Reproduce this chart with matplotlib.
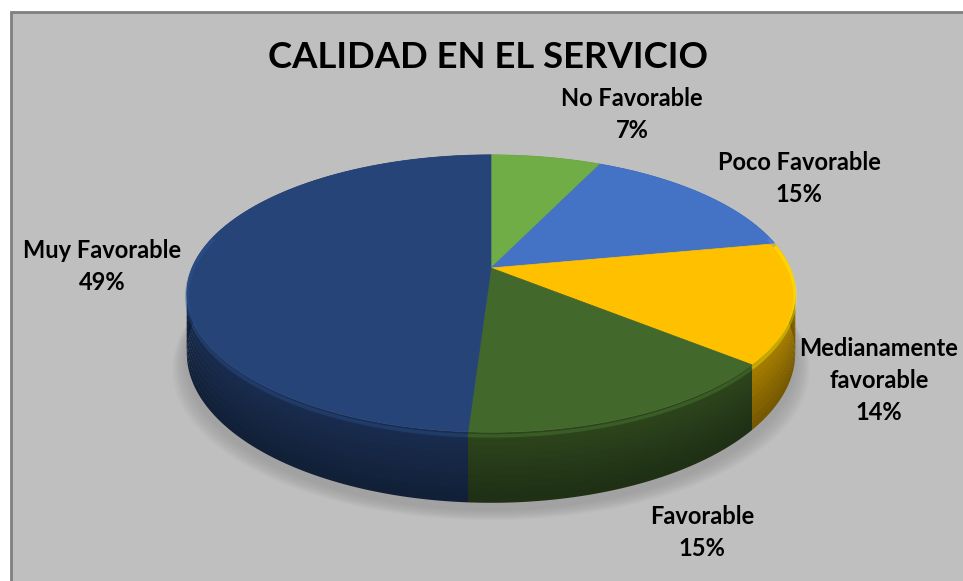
import numpy as np
import matplotlib.pyplot as plt
from matplotlib.patches import Polygon, Rectangle
from matplotlib.colors import to_rgb

# Calidad en el servicio - 3D pie
labels = ['No Favorable', 'Poco Favorable', 'Medianamente\nfavorable', 'Favorable', 'Muy Favorable']
values = [7, 15, 14, 15, 49]
colors = ['#70ad47', '#4472c4', '#ffc000', '#43682b', '#264478']
title = 'CALIDAD EN EL SERVICIO'

# centre of the first text line of each label (pixels)
label_pos = [(632, 99), (799, 163), (879, 348), (702, 517), (102, 251)]
line_step = 32

W, H = 963, 581
plt.rcParams['font.family'] = ['Lato', 'DejaVu Sans']

fig = plt.figure(figsize=(W / 100, H / 100), dpi=100)
ax = fig.add_axes([0, 0, 1, 1])
ax.set_xlim(0, W)
ax.set_ylim(H, 0)
ax.axis('off')

ax.add_patch(Rectangle((11, 12), W, H, facecolor='#bfbfbf', edgecolor='#7f7f7f', lw=2))

# pie geometry (perspective projection of a tilted disc)
cx, cy = 491, 268
rx, ry = 299, 134
persp = 0.184
depth = 57


def proj(theta, drop=0.0):
    u = np.sin(theta)
    v = np.cos(theta)
    s = 1.0 / (1.0 + persp * v)
    return cx + rx * u * s, cy - ry * v * s + drop * s


def shade(c, f):
    r, g, b = to_rgb(c)
    return (min(r * f, 1), min(g * f, 1), min(b * f, 1))


fracs = np.array(values) / sum(values)
edges = np.concatenate([[0], np.cumsum(fracs)]) * 2 * np.pi

# soft shadow under the disc
th = np.linspace(0, 2 * np.pi, 200)
for k in range(12):
    g = 12 - k
    xs, ys = proj(th, depth + 6)
    xs = cx + (xs - cx) * (1 + g * 0.004)
    ys = ys + g * 0.9
    ax.add_patch(Polygon(np.column_stack([xs, ys]), closed=True,
                         facecolor='#8a8a8a', edgecolor='none', alpha=0.05, zorder=1))

# side wall, in horizontal bands getting darker towards the bottom
layers = 10
for i in range(len(values)):
    t = np.linspace(edges[i], edges[i + 1], 200)
    for L in range(layers):
        d0 = depth * L / layers
        d1 = depth * (L + 1) / layers + 0.6
        xa, ya = proj(t, d0)
        xb, yb = proj(t[::-1], d1)
        pts = np.column_stack([np.concatenate([xa, xb]), np.concatenate([ya, yb])])
        light = 0.66 - 0.2 * L / (layers - 1)
        ax.add_patch(Polygon(pts, closed=True, facecolor=shade(colors[i], light),
                             edgecolor='none', zorder=2))

# top face
for i in range(len(values)):
    t = np.linspace(edges[i], edges[i + 1], 150)
    xs, ys = proj(t)
    pts = [(cx, cy)] + list(zip(xs, ys))
    ax.add_patch(Polygon(pts, closed=True, facecolor=colors[i], edgecolor=colors[i],
                         lw=0.5, zorder=3))

# bevel highlight on the front rim
for i in range(len(values)):
    t = np.linspace(edges[i], edges[i + 1], 150)
    t = t[np.cos(t) < 0.25]
    if len(t) < 2:
        continue
    xs, ys = proj(t, 3)
    ax.plot(xs, ys, color=shade(colors[i], 1.3), lw=2.5, alpha=0.35, zorder=4,
            solid_capstyle='butt')

ax.text(488, 57, title, ha='center', va='center', fontsize=26.3, fontweight='bold', color='black')

for lab, v, (x, y) in zip(labels, values, label_pos):
    lines = lab.split('\n') + [f'{v}%']
    for k, s in enumerate(lines):
        ax.text(x, y + k * line_step, s, ha='center', va='center', fontsize=17,
                fontweight='bold', color='black')

fig.savefig('out.png', dpi=100, facecolor='white')
